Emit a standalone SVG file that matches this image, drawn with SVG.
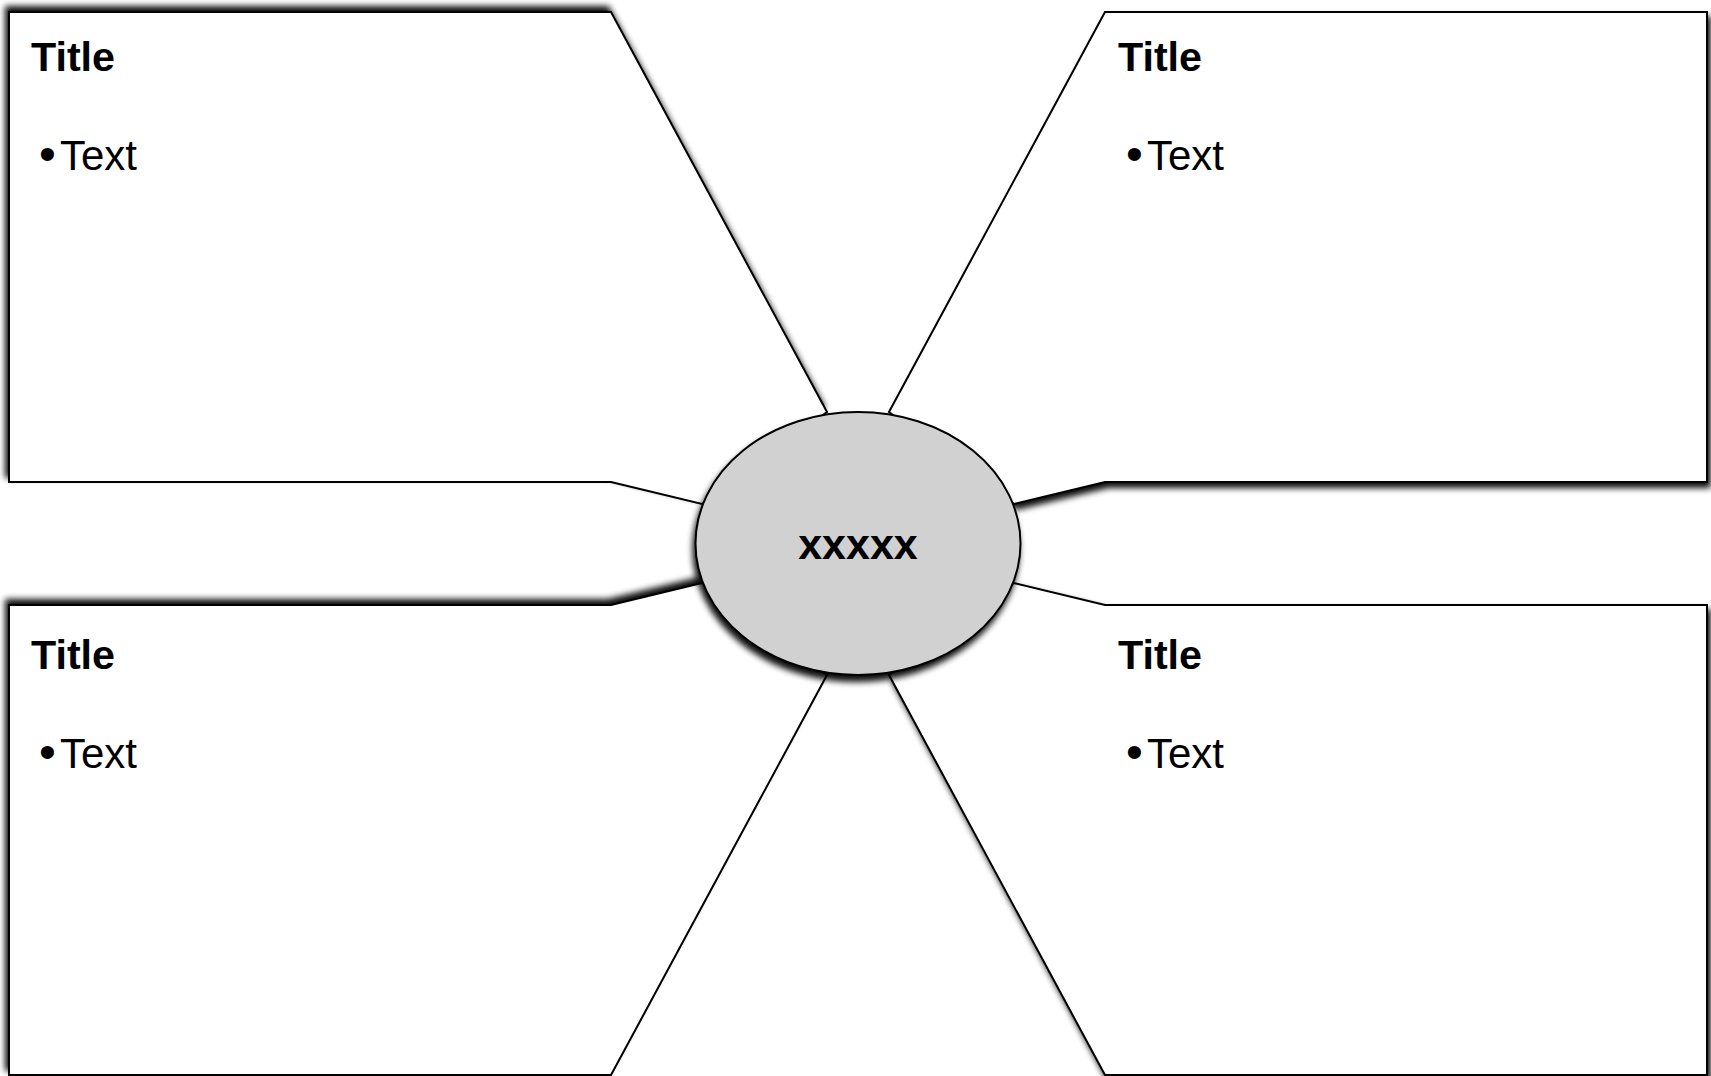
<svg xmlns="http://www.w3.org/2000/svg" width="1711" height="1076" viewBox="0 0 1711 1076">
<defs>
<style>
.box{fill:#ffffff;stroke:#000000;stroke-width:2;stroke-linejoin:miter}
.hub{fill:#d1d1d1;stroke:#000000;stroke-width:2}
.title{font-family:"Liberation Sans",Arial,sans-serif;font-weight:bold;font-size:41px;fill:#000}
.body{font-family:"Liberation Sans",Arial,sans-serif;font-size:42px;fill:#000}
.bul{font-family:"Liberation Sans",Arial,sans-serif;font-size:48px;fill:#000}
.hubtxt{font-family:"Liberation Sans",Arial,sans-serif;font-weight:bold;font-size:43px;fill:#000;text-anchor:middle}
</style>
<filter id="shUL" x="-5%" y="-5%" width="110%" height="110%">
<feGaussianBlur in="SourceAlpha" stdDeviation="3"/>
<feOffset dx="-3" dy="-5" result="b"/>
<feComponentTransfer><feFuncA type="linear" slope="0.95"/></feComponentTransfer>
<feMerge><feMergeNode/><feMergeNode in="SourceGraphic"/></feMerge>
</filter>
<filter id="shDR" x="-5%" y="-5%" width="110%" height="110%">
<feGaussianBlur in="SourceAlpha" stdDeviation="3"/>
<feOffset dx="3" dy="5" result="b"/>
<feComponentTransfer><feFuncA type="linear" slope="0.95"/></feComponentTransfer>
<feMerge><feMergeNode/><feMergeNode in="SourceGraphic"/></feMerge>
</filter>
<filter id="shHub" x="-10%" y="-10%" width="120%" height="120%">
<feGaussianBlur in="SourceAlpha" stdDeviation="3"/>
<feOffset dx="-2" dy="6" result="b"/>
<feComponentTransfer><feFuncA type="linear" slope="0.95"/></feComponentTransfer>
<feMerge><feMergeNode/><feMergeNode in="SourceGraphic"/></feMerge>
</filter>
</defs>
<rect width="1711" height="1076" fill="#ffffff"/>
<g id="connectors"></g>
<g id="box-top-left">
<polygon class="box" filter="url(#shUL)" points="9,12 611,12 827,412 702,504 611,482 9,482"/>
<text class="title" x="31" y="71" textLength="84" lengthAdjust="spacingAndGlyphs">Title</text>
<text class="bul" x="39" y="170">•</text>
<text class="body" x="60" y="170" textLength="77" lengthAdjust="spacingAndGlyphs">Text</text>
</g>
<g id="box-top-right">
<polygon class="box" filter="url(#shDR)" points="1707,12 1105,12 889,412 1014,504 1105,482 1707,482"/>
<text class="title" x="1118" y="71" textLength="84" lengthAdjust="spacingAndGlyphs">Title</text>
<text class="bul" x="1126" y="170">•</text>
<text class="body" x="1147" y="170" textLength="77" lengthAdjust="spacingAndGlyphs">Text</text>
</g>
<g id="box-bottom-left">
<polygon class="box" filter="url(#shUL)" points="9,1075 611,1075 827,675 702,583 611,605 9,605"/>
<text class="title" x="31" y="669" textLength="84" lengthAdjust="spacingAndGlyphs">Title</text>
<text class="bul" x="39" y="768">•</text>
<text class="body" x="60" y="768" textLength="77" lengthAdjust="spacingAndGlyphs">Text</text>
</g>
<g id="box-bottom-right">
<polygon class="box" filter="url(#shDR)" points="1707,1075 1105,1075 889,675 1014,583 1105,605 1707,605"/>
<text class="title" x="1118" y="669" textLength="84" lengthAdjust="spacingAndGlyphs">Title</text>
<text class="bul" x="1126" y="768">•</text>
<text class="body" x="1147" y="768" textLength="77" lengthAdjust="spacingAndGlyphs">Text</text>
</g>
<g id="hub">
<ellipse class="hub" filter="url(#shHub)" cx="858" cy="543.5" rx="162.5" ry="131.5"/>
<text class="hubtxt" x="858" y="559">xxxxx</text>
</g>
</svg>
